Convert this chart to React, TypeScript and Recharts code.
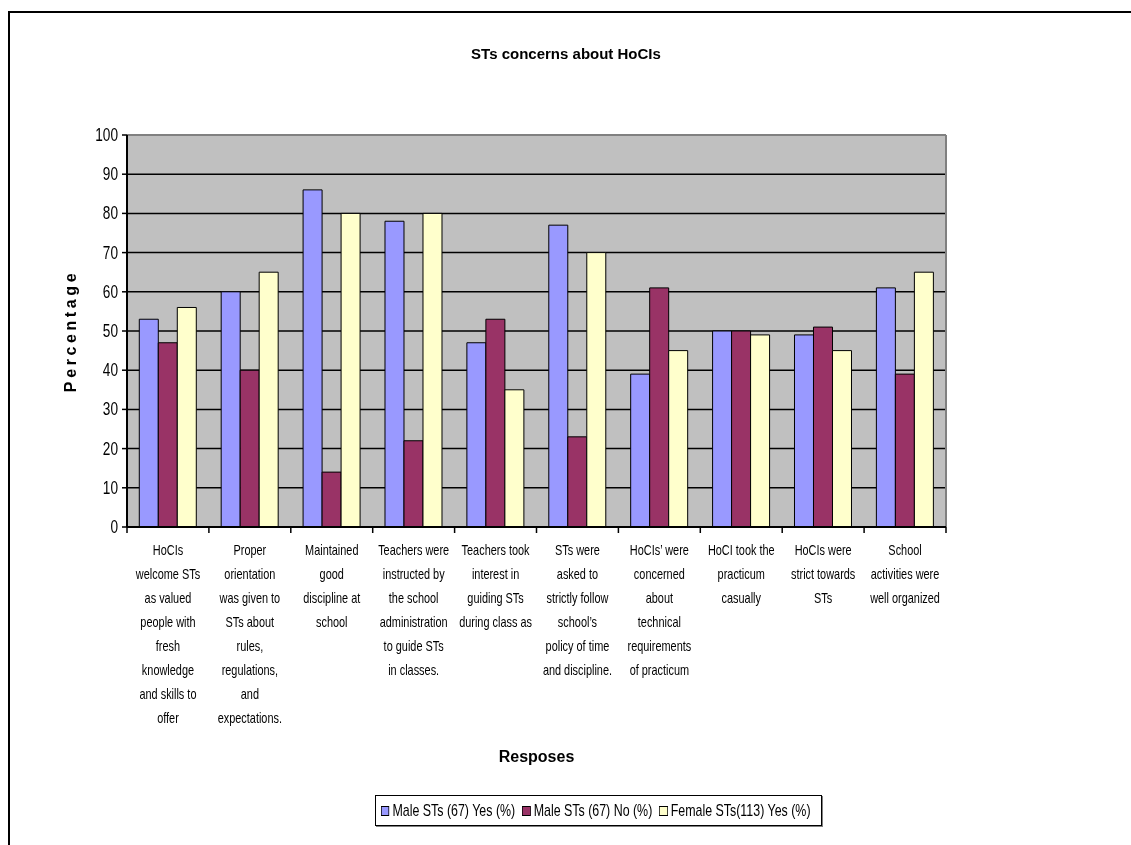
import React from "react";
import { BarChart, Bar, XAxis, YAxis, CartesianGrid, Legend, Label } from "recharts";

// category labels, one entry per line as in the original chart
const categories = [
  "HoCIs\nwelcome STs\nas valued\npeople with\nfresh\nknowledge\nand skills to\noffer",
  "Proper\norientation\nwas given to\nSTs about\nrules,\nregulations,\nand\nexpectations.",
  "Maintained\ngood\ndiscipline at\nschool",
  "Teachers were\ninstructed by\nthe school\nadministration\nto guide STs\nin classes.",
  "Teachers took\ninterest in\nguiding STs\nduring class as",
  "STs were\nasked to\nstrictly follow\nschool\u2019s\npolicy of time\nand discipline.",
  "HoCIs\u2019 were\nconcerned\nabout\ntechnical\nrequirements\nof practicum",
  "HoCI took the\npracticum\ncasually",
  "HoCIs were\nstrict towards\nSTs",
  "School\nactivities were\nwell organized",
];

const maleYes = [53, 60, 86, 78, 47, 77, 39, 50, 49, 61];
const maleNo = [47, 40, 14, 22, 53, 23, 61, 50, 51, 39];
const femaleYes = [56, 65, 80, 80, 35, 70, 45, 49, 45, 65];

const yTicks = [0, 10, 20, 30, 40, 50, 60, 70, 80, 90, 100];

const seriesNames = ["Male STs (67) Yes (%)", "Male STs (67) No (%)", "Female STs(113) Yes (%)"];
const seriesColors = ["#9999FF", "#993366", "#FFFFCC"];

const data = categories.map((name, i) => ({
  name,
  maleYes: maleYes[i],
  maleNo: maleNo[i],
  femaleYes: femaleYes[i],
}));

const FONT = "'Liberation Sans', Arial, sans-serif";
const SQUEEZE = 0.78; // the original uses a narrow face, squeeze Liberation Sans to match
const LEGEND_SQUEEZE = 0.73;

const W = 1115;
const H = 830;
const PLOT_LEFT = 119;
const PLOT_RIGHT = 938;
const BAND = (PLOT_RIGHT - PLOT_LEFT) / categories.length;

const CategoryTick = (props: any) => {
  const { x, y, payload, index } = props;
  const lines: string[] = String(payload.value).split("\n");
  const axisY = y - 8;
  return (
    <g>
      <line x1={x - BAND / 2} y1={axisY} x2={x - BAND / 2} y2={axisY + 6} stroke="#000" strokeWidth={1.5} />
      {index === categories.length - 1 && (
        <line x1={x + BAND / 2} y1={axisY} x2={x + BAND / 2} y2={axisY + 6} stroke="#000" strokeWidth={1.5} />
      )}
      <g transform={`translate(${x} ${axisY + 28}) scale(${SQUEEZE} 1)`}>
        <text x={0} y={0} textAnchor="middle" fontFamily={FONT} fontSize={14} fill="#000">
          {lines.map((l, i) => (
            <tspan key={i} x={0} dy={i === 0 ? 0 : 24}>
              {l}
            </tspan>
          ))}
        </text>
      </g>
    </g>
  );
};

const ValueTick = (props: any) => {
  const { x, y, payload } = props;
  return (
    <g transform={`translate(${x} ${y + 6}) scale(${SQUEEZE} 1)`}>
      <text x={0} y={0} textAnchor="end" fontFamily={FONT} fontSize={17.5} fill="#000">
        {payload.value}
      </text>
    </g>
  );
};

const LegendBox = () => (
  <div
    style={{
      height: 29,
      border: "1px solid #000",
      boxShadow: "1px 1px 0 #808080",
      background: "#fff",
      overflow: "hidden",
    }}
  >
    <div
      style={{
        display: "flex",
        alignItems: "center",
        height: 29,
        width: 445 / LEGEND_SQUEEZE,
        paddingLeft: 5 / LEGEND_SQUEEZE,
        boxSizing: "border-box",
        transform: `scaleX(${LEGEND_SQUEEZE})`,
        transformOrigin: "left center",
        fontFamily: FONT,
        fontSize: 17,
        color: "#000",
        whiteSpace: "nowrap",
        gap: 7 / LEGEND_SQUEEZE,
      }}
    >
      {seriesNames.map((n, i) => (
        <span key={n} style={{ display: "flex", alignItems: "center", gap: 3 / LEGEND_SQUEEZE }}>
          <span
            style={{
              display: "inline-block",
              width: 7 / LEGEND_SQUEEZE,
              height: 8,
              background: seriesColors[i],
              border: "1px solid #000",
            }}
          />
          {n}
        </span>
      ))}
    </div>
  </div>
);

export default function App() {
  return (
    <div style={{ position: "relative", width: W, height: H }}>
      <div
        style={{
          position: "fixed",
          left: 8,
          top: 11,
          right: 0,
          bottom: 0,
          borderTop: "2px solid #000",
          borderLeft: "2px solid #000",
        }}
      />
      <div
        style={{
          position: "absolute",
          left: 0,
          width: 1116,
          top: 37,
          textAlign: "center",
          fontFamily: FONT,
          fontWeight: "bold",
          fontSize: 15,
          color: "#000",
        }}
      >
        STs concerns about HoCIs
      </div>
      <BarChart
        width={W}
        height={H}
        data={data}
        margin={{ top: 127, right: W - PLOT_RIGHT, bottom: 91, left: 59 }}
        barCategoryGap="15%"
        barGap={0}
        style={{ position: "absolute", left: 0, top: 0 }}
      >
        <CartesianGrid vertical={false} stroke="#000" strokeWidth={1.5} fill="#C0C0C0" />
        <CartesianGrid
          horizontalCoordinatesGenerator={({ offset }: any) => [offset.top]}
          verticalCoordinatesGenerator={({ offset }: any) => [offset.left + offset.width]}
          stroke="#808080"
          strokeWidth={2}
        />
        <XAxis
          dataKey="name"
          height={220}
          interval={0}
          tickLine={false}
          axisLine={{ stroke: "#000", strokeWidth: 2 }}
          tick={<CategoryTick />}
        >
          <Label
            content={({ viewBox }: any) => (
              <text
                x={viewBox.x + viewBox.width / 2}
                y={viewBox.y + 235}
                textAnchor="middle"
                fontFamily={FONT}
                fontWeight="bold"
                fontSize={16}
                fill="#000"
              >
                Resposes
              </text>
            )}
          />
        </XAxis>
        <YAxis
          width={60}
          domain={[0, 100]}
          ticks={yTicks}
          interval={0}
          tickSize={5}
          tickMargin={4}
          axisLine={{ stroke: "#000", strokeWidth: 2 }}
          tickLine={{ stroke: "#000", strokeWidth: 1.5 }}
          tick={<ValueTick />}
        >
          <Label
            content={({ viewBox }: any) => {
              const cx = 62;
              const cy = viewBox.y + viewBox.height / 2;
              return (
                <text
                  x={cx}
                  y={cy}
                  transform={`rotate(-90 ${cx} ${cy})`}
                  textAnchor="middle"
                  dominantBaseline="central"
                  fontFamily={FONT}
                  fontWeight="bold"
                  fontSize={16}
                  letterSpacing={3.6}
                  fill="#000"
                >
                  Percentage
                </text>
              );
            }}
          />
        </YAxis>
        <Legend
          verticalAlign="middle"
          align="center"
          content={<LegendBox />}
          wrapperStyle={{ left: 367, top: 787, width: 447, height: 31 }}
        />
        <Bar dataKey="maleYes" name={seriesNames[0]} fill={seriesColors[0]} stroke="#000" strokeWidth={1} isAnimationActive={false} />
        <Bar dataKey="maleNo" name={seriesNames[1]} fill={seriesColors[1]} stroke="#000" strokeWidth={1} isAnimationActive={false} />
        <Bar dataKey="femaleYes" name={seriesNames[2]} fill={seriesColors[2]} stroke="#000" strokeWidth={1} isAnimationActive={false} />
      </BarChart>
    </div>
  );
}
